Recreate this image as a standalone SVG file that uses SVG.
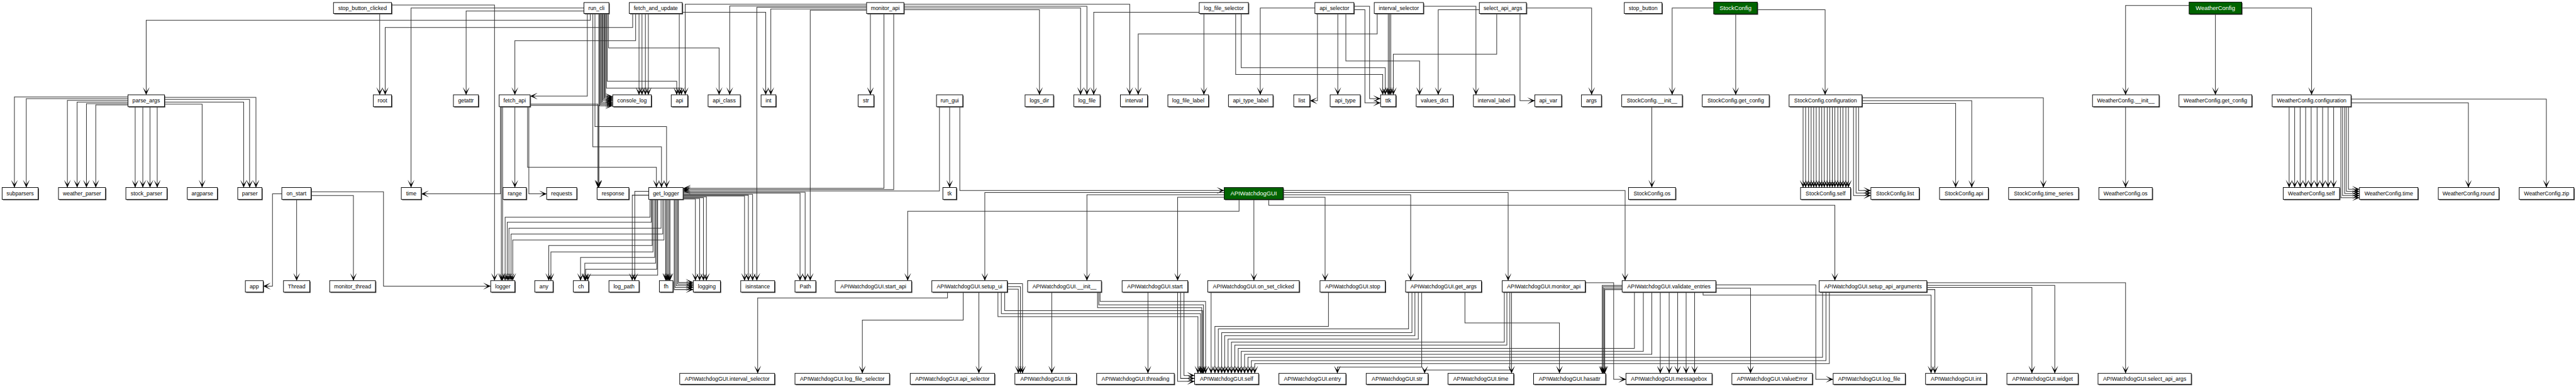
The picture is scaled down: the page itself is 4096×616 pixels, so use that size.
<svg xmlns="http://www.w3.org/2000/svg" width="4096" height="616" viewBox="0 0 4096 616">
<style>
.n rect.s{fill:#555}
.n rect.b{fill:#fff;stroke:#000;stroke-width:1.4}
.n text{font-family:"Liberation Sans",Arial,sans-serif;font-size:13px;text-anchor:middle;dominant-baseline:central;fill:#000}
.g rect.b{fill:#006400}
.g text{fill:#fff;font-size:14px}
#connectors path{fill:none;stroke:#333;stroke-width:1.5;marker-end:url(#arr)}
</style>
<defs>
<marker id="arr" markerUnits="userSpaceOnUse" markerWidth="18" markerHeight="16" viewBox="0 -8 18 16" refX="18" refY="0" orient="auto"><path d="M0,-8L18,0L0,8L11,0Z" fill="#000"/></marker>
</defs>
<rect width="4096" height="616" fill="#fff"/>
<g transform="scale(0.6738)">
<g id="connectors">
<path d="M896,32V224"/><path d="M924,12H1167V663"/><path d="M1378,19H970V443"/><path d="M1393,32V48H345V224"/><path d="M1493,32V65H909V224"/><path d="M1378,26H1100V224"/><path d="M1386,32V227H1251"/><path d="M1399,32V347H1561V443"/><path d="M1404,32V299H1573V443"/><path d="M1413,32V443"/>
<path d="M1415,32V250H1446"/><path d="M1417,32V247H1446"/><path d="M1419,32V244H1446"/><path d="M1421,32V241H1446"/><path d="M1423,32V237H1446"/><path d="M1425,32V234H1446"/><path d="M1427,32V231H1446"/><path d="M1429,32V228H1446"/>
<path d="M1433,32V192H1597V224"/><path d="M1431,32V208H1608V224"/><path d="M1436,32V113H1697V224"/>
<path d="M1500,32V96H1215V224"/><path d="M1508,32V224"/><path d="M1515,32V224"/><path d="M1523,32V224"/><path d="M1530,32V224"/><path d="M1603,32V224"/><path d="M1610,29H1807V224"/>
<path d="M2045,10H1617V224"/><path d="M2045,14H1722V224"/><path d="M2045,17H1786V663"/><path d="M2045,21H1819V224"/><path d="M2045,24H1912V663"/><path d="M2054,32V224"/><path d="M2086,32V445H1612"/><path d="M2109,32V448H1612"/><path d="M2133,10H2666V224"/><path d="M2133,15H2565V224"/><path d="M2133,19H2550V224"/><path d="M2133,23H2453V224"/>
<path d="M2217,252V451H1612"/><path d="M2241,252V443"/><path d="M2265,252V450H2889"/>
<path d="M2830,29H2581V224"/><path d="M2841,32V224"/><path d="M2916,32V176H3263V224"/><path d="M2929,32V160H3269V224"/>
<path d="M3103,19H2974V224"/><path d="M3109,32V238H3091"/><path d="M3157,32V224"/><path d="M3176,32V144H3350V224"/><path d="M3195,15H3232V233H3258"/><path d="M3195,23H3221V243H3258"/>
<path d="M3250,32V80H2686V224"/><path d="M3359,15H3483V224"/><path d="M3276,32V224"/><path d="M3279,32V224"/><path d="M3282,32V224"/>
<path d="M3491,23H3394V224"/><path d="M3532,32V128H3288V224"/><path d="M3587,32V238H3622"/><path d="M3602,19H3756V224"/>
<path d="M4044,19H3946V224"/><path d="M4096,33V224"/><path d="M4147,23H4307V224"/><path d="M3898,252V443"/>
<path d="M4255,252V443"/><path d="M4261,252V443"/><path d="M4268,252V443"/><path d="M4274,252V443"/><path d="M4280,252V443"/><path d="M4286,252V443"/><path d="M4293,252V443"/><path d="M4299,252V443"/><path d="M4305,252V443"/><path d="M4312,252V443"/><path d="M4318,252V443"/><path d="M4324,252V443"/><path d="M4330,252V443"/><path d="M4337,252V443"/><path d="M4343,252V443"/><path d="M4349,252V443"/><path d="M4356,252V443"/><path d="M4362,252V443"/>
<path d="M4374,252V462H4415"/><path d="M4380,252V456H4415"/><path d="M4386,252V450H4415"/>
<path d="M4394,231H4822V443"/><path d="M4394,238H4653V443"/><path d="M4394,244H4615V443"/>
<path d="M5166,13H5016V224"/><path d="M5228,33V224"/><path d="M5290,19H5455V224"/><path d="M5016,252V443"/>
<path d="M5402,252V443"/><path d="M5415,252V443"/><path d="M5428,252V443"/><path d="M5441,252V443"/><path d="M5454,252V443"/><path d="M5468,252V443"/><path d="M5481,252V443"/><path d="M5494,252V443"/><path d="M5507,252V443"/>
<path d="M5524,252V467H5568"/><path d="M5528,252V462H5568"/><path d="M5533,252V457H5568"/><path d="M5537,252V452H5568"/><path d="M5542,252V447H5568"/>
<path d="M5548,234H6009V443"/><path d="M5548,243H5825V443"/>
<path d="M302,229H34V443"/><path d="M302,233H62V443"/><path d="M302,237H159V443"/><path d="M302,241H182V443"/><path d="M302,245H204V443"/><path d="M302,248H226V443"/>
<path d="M319,252V443"/><path d="M337,252V443"/><path d="M354,252V443"/><path d="M371,252V443"/>
<path d="M388,230H604V443"/><path d="M388,235H589V443"/><path d="M388,241H575V443"/><path d="M388,246H477V443"/>
<path d="M665,458H643V676H621"/><path d="M700,471V663"/><path d="M734,462H834V663"/><path d="M734,453H905V676H1158"/>
<path d="M1215,252V443"/><path d="M1248,252V458H1290"/><path d="M1245,252V395H1549V443"/><path d="M1251,246H1411V443"/><path d="M1251,249H1413V443"/><path d="M1181,252V458H994"/><path d="M1183,252V663"/><path d="M1186,252V663"/>
<path d="M1534,471V513H1192V663"/><path d="M1537,471V525H1197V663"/><path d="M1560,471V539H1201V663"/><path d="M1564,471V553H1206V663"/><path d="M1567,471V567H1210V663"/>
<path d="M1539,471V580H1295V663"/><path d="M1541,471V595H1300V663"/>
<path d="M1545,471V608H1370V663"/><path d="M1547,471V622H1380V663"/><path d="M1550,471V636H1382V663"/><path d="M1552,471V650H1387V663"/>
<path d="M1531,452H1498V663"/><path d="M1531,461H1492V663"/>
<path d="M1571,471V663"/><path d="M1573,471V663"/><path d="M1576,471V663"/><path d="M1579,471V663"/><path d="M1581,471V663"/>
<path d="M1591,471V684H1636"/><path d="M1593,471V679H1636"/><path d="M1596,471V675H1636"/><path d="M1599,471V671H1636"/><path d="M1601,471V667H1636"/>
<path d="M1612,470H1641V663"/><path d="M1612,469H1651V663"/><path d="M1612,467H1660V663"/><path d="M1612,465H1667V663"/>
<path d="M1612,463H1757V663"/><path d="M1612,461H1766V663"/><path d="M1612,459H1776V663"/>
<path d="M1612,456H1888V663"/><path d="M1612,454H1900V663"/>
<path d="M2889,455H2324V663"/><path d="M2889,460H2565V663"/><path d="M2889,466H2779V663"/><path d="M2924,471V499H2142V663"/><path d="M2959,471V663"/><path d="M2994,471V485H4330V663"/>
<path d="M3028,450H3835V663"/><path d="M3028,455H3559V663"/><path d="M3028,460H3329V663"/><path d="M3028,466H3127V663"/>
<path d="M2236,690V704H1788V882"/><path d="M2273,690V756H2035V882"/><path d="M2310,690V882"/>
<path d="M2355,690V748H2827V882"/><path d="M2363,690V741H2833V882"/><path d="M2371,690V734H2838V882"/>
<path d="M2377,670H2413V882"/><path d="M2377,677H2408V882"/><path d="M2377,683H2403V882"/>
<path d="M2482,690V882"/><path d="M2590,690V727H2836V882"/><path d="M2593,690V720H2840V882"/><path d="M2596,690V712H2845V882"/>
<path d="M2709,690V882"/><path d="M2779,690V901H2819"/><path d="M2786,690V894H2819"/><path d="M2794,690V887H2819"/>
<path d="M2858,690V882"/>
<path d="M3135,690V771H2867V882"/>
<path d="M3324,690V777H2875V882"/><path d="M3332,690V786H2883V882"/><path d="M3339,690V793H2890V882"/><path d="M3347,690V801H2898V882"/>
<path d="M3550,690V808H2906V882"/><path d="M3556,690V815H2914V882"/>
<path d="M3857,690V823H2922V882"/><path d="M3878,690V830H2929V882"/><path d="M3898,690V837H2937V882"/>
<path d="M4301,690V844H2945V882"/><path d="M4309,690V852H2953V882"/><path d="M4317,690V859H2961V882"/>
<path d="M3355,690V867H3156V882"/><path d="M3563,690V874H3362V882"/><path d="M3567,690V882"/><path d="M3457,690V763H3680V882"/>
<path d="M3828,674H3781V882"/><path d="M3828,677H3783V882"/><path d="M3828,681H3785V882"/><path d="M3828,684H3787V882"/>
<path d="M3741,668H3808V896H3837"/>
<path d="M3918,690V882"/><path d="M3939,690V882"/><path d="M3959,690V882"/><path d="M3979,690V882"/><path d="M3999,690V882"/>
<path d="M4049,681H4131V882"/><path d="M4049,673H4285V896H4326"/><path d="M4019,690V697H4557V882"/>
<path d="M4547,684H4566V882"/><path d="M4547,679H4795V882"/><path d="M4547,674H4849V882"/><path d="M4547,668H5016V882"/>
</g>
<!-- row 1 -->
<g id="n-stop_button_clicked" class="n"><rect class="s" x="789" y="8" width="137" height="26"/><rect class="b" x="787" y="6" width="137" height="26"/><text x="855.5" y="19">stop_button_clicked</text></g>
<g id="n-run_cli" class="n"><rect class="s" x="1380" y="8" width="59" height="26"/><rect class="b" x="1378" y="6" width="59" height="26"/><text x="1407.5" y="19">run_cli</text></g>
<g id="n-fetch_and_update" class="n"><rect class="s" x="1487" y="8" width="125" height="26"/><rect class="b" x="1485" y="6" width="125" height="26"/><text x="1547.5" y="19">fetch_and_update</text></g>
<g id="n-monitor_api" class="n"><rect class="s" x="2047" y="8" width="88" height="26"/><rect class="b" x="2045" y="6" width="88" height="26"/><text x="2089" y="19">monitor_api</text></g>
<g id="n-log_file_selector" class="n"><rect class="s" x="2832" y="8" width="116" height="26"/><rect class="b" x="2830" y="6" width="116" height="26"/><text x="2888" y="19">log_file_selector</text></g>
<g id="n-api_selector" class="n"><rect class="s" x="3105" y="8" width="92" height="26"/><rect class="b" x="3103" y="6" width="92" height="26"/><text x="3149" y="19">api_selector</text></g>
<g id="n-interval_selector" class="n"><rect class="s" x="3245" y="8" width="116" height="26"/><rect class="b" x="3243" y="6" width="116" height="26"/><text x="3301" y="19">interval_selector</text></g>
<g id="n-select_api_args" class="n"><rect class="s" x="3493" y="8" width="111" height="26"/><rect class="b" x="3491" y="6" width="111" height="26"/><text x="3546.5" y="19">select_api_args</text></g>
<g id="n-stop_button" class="n"><rect class="s" x="3835" y="8" width="89" height="26"/><rect class="b" x="3833" y="6" width="89" height="26"/><text x="3877.5" y="19">stop_button</text></g>
<g id="n-StockConfig" class="n g"><rect class="s" x="4046" y="7" width="103" height="28"/><rect class="b" x="4044" y="5" width="103" height="28"/><text x="4095.5" y="19">StockConfig</text></g>
<g id="n-WeatherConfig" class="n g"><rect class="s" x="5168" y="7" width="124" height="28"/><rect class="b" x="5166" y="5" width="124" height="28"/><text x="5228" y="19">WeatherConfig</text></g>
<!-- row 2 -->
<g id="n-parse_args" class="n"><rect class="s" x="304" y="226" width="86" height="28"/><rect class="b" x="302" y="224" width="86" height="28"/><text x="345" y="238">parse_args</text></g>
<g id="n-root" class="n"><rect class="s" x="883" y="226" width="43" height="28"/><rect class="b" x="881" y="224" width="43" height="28"/><text x="902.5" y="238">root</text></g>
<g id="n-getattr" class="n"><rect class="s" x="1072" y="226" width="59" height="28"/><rect class="b" x="1070" y="224" width="59" height="28"/><text x="1099.5" y="238">getattr</text></g>
<g id="n-fetch_api" class="n"><rect class="s" x="1180" y="226" width="73" height="28"/><rect class="b" x="1178" y="224" width="73" height="28"/><text x="1214.5" y="238">fetch_api</text></g>
<g id="n-console_log" class="n"><rect class="s" x="1448" y="226" width="91" height="28"/><rect class="b" x="1446" y="224" width="91" height="28"/><text x="1491.5" y="238">console_log</text></g>
<g id="n-api" class="n"><rect class="s" x="1586" y="226" width="39" height="28"/><rect class="b" x="1584" y="224" width="39" height="28"/><text x="1603.5" y="238">api</text></g>
<g id="n-api_class" class="n"><rect class="s" x="1673" y="226" width="76" height="28"/><rect class="b" x="1671" y="224" width="76" height="28"/><text x="1709" y="238">api_class</text></g>
<g id="n-int" class="n"><rect class="s" x="1798" y="226" width="35" height="28"/><rect class="b" x="1796" y="224" width="35" height="28"/><text x="1813.5" y="238">int</text></g>
<g id="n-str" class="n"><rect class="s" x="2027" y="226" width="37" height="28"/><rect class="b" x="2025" y="224" width="37" height="28"/><text x="2043.5" y="238">str</text></g>
<g id="n-run_gui" class="n"><rect class="s" x="2212" y="226" width="62" height="28"/><rect class="b" x="2210" y="224" width="62" height="28"/><text x="2241" y="238">run_gui</text></g>
<g id="n-logs_dir" class="n"><rect class="s" x="2421" y="226" width="67" height="28"/><rect class="b" x="2419" y="224" width="67" height="28"/><text x="2452.5" y="238">logs_dir</text></g>
<g id="n-log_file" class="n"><rect class="s" x="2536" y="226" width="62" height="28"/><rect class="b" x="2534" y="224" width="62" height="28"/><text x="2565" y="238">log_file</text></g>
<g id="n-interval" class="n"><rect class="s" x="2646" y="226" width="64" height="28"/><rect class="b" x="2644" y="224" width="64" height="28"/><text x="2676" y="238">interval</text></g>
<g id="n-log_file_label" class="n"><rect class="s" x="2758" y="226" width="96" height="28"/><rect class="b" x="2756" y="224" width="96" height="28"/><text x="2804" y="238">log_file_label</text></g>
<g id="n-api_type_label" class="n"><rect class="s" x="2901" y="226" width="105" height="28"/><rect class="b" x="2899" y="224" width="105" height="28"/><text x="2951.5" y="238">api_type_label</text></g>
<g id="n-list" class="n"><rect class="s" x="3055" y="226" width="38" height="28"/><rect class="b" x="3053" y="224" width="38" height="28"/><text x="3072" y="238">list</text></g>
<g id="n-api_type" class="n"><rect class="s" x="3141" y="226" width="71" height="28"/><rect class="b" x="3139" y="224" width="71" height="28"/><text x="3174.5" y="238">api_type</text></g>
<g id="n-ttk" class="n"><rect class="s" x="3260" y="226" width="36" height="28"/><rect class="b" x="3258" y="224" width="36" height="28"/><text x="3276" y="238">ttk</text></g>
<g id="n-values_dict" class="n"><rect class="s" x="3344" y="226" width="87" height="28"/><rect class="b" x="3342" y="224" width="87" height="28"/><text x="3385.5" y="238">values_dict</text></g>
<g id="n-interval_label" class="n"><rect class="s" x="3479" y="226" width="97" height="28"/><rect class="b" x="3477" y="224" width="97" height="28"/><text x="3525.5" y="238">interval_label</text></g>
<g id="n-api_var" class="n"><rect class="s" x="3624" y="226" width="63" height="28"/><rect class="b" x="3622" y="224" width="63" height="28"/><text x="3653.5" y="238">api_var</text></g>
<g id="n-args" class="n"><rect class="s" x="3734" y="226" width="47" height="28"/><rect class="b" x="3732" y="224" width="47" height="28"/><text x="3755.5" y="238">args</text></g>
<g id="n-StockConfig-__init__" class="n"><rect class="s" x="3829" y="226" width="143" height="28"/><rect class="b" x="3827" y="224" width="143" height="28"/><text x="3898.5" y="238">StockConfig.__init__</text></g>
<g id="n-StockConfig-get_config" class="n"><rect class="s" x="4019" y="226" width="158" height="28"/><rect class="b" x="4017" y="224" width="158" height="28"/><text x="4096" y="238">StockConfig.get_config</text></g>
<g id="n-StockConfig-configuration" class="n"><rect class="s" x="4224" y="226" width="172" height="28"/><rect class="b" x="4222" y="224" width="172" height="28"/><text x="4308" y="238">StockConfig.configuration</text></g>
<g id="n-WeatherConfig-__init__" class="n"><rect class="s" x="4940" y="226" width="157" height="28"/><rect class="b" x="4938" y="224" width="157" height="28"/><text x="5016.5" y="238">WeatherConfig.__init__</text></g>
<g id="n-WeatherConfig-get_config" class="n"><rect class="s" x="5144" y="226" width="172" height="28"/><rect class="b" x="5142" y="224" width="172" height="28"/><text x="5228" y="238">WeatherConfig.get_config</text></g>
<g id="n-WeatherConfig-configuration" class="n"><rect class="s" x="5364" y="226" width="186" height="28"/><rect class="b" x="5362" y="224" width="186" height="28"/><text x="5455" y="238">WeatherConfig.configuration</text></g>
<!-- row 3 -->
<g id="n-subparsers" class="n"><rect class="s" x="7" y="445" width="85" height="28"/><rect class="b" x="5" y="443" width="85" height="28"/><text x="47.5" y="457">subparsers</text></g>
<g id="n-weather_parser" class="n"><rect class="s" x="140" y="445" width="111" height="28"/><rect class="b" x="138" y="443" width="111" height="28"/><text x="193.5" y="457">weather_parser</text></g>
<g id="n-stock_parser" class="n"><rect class="s" x="299" y="445" width="97" height="28"/><rect class="b" x="297" y="443" width="97" height="28"/><text x="345.5" y="457">stock_parser</text></g>
<g id="n-argparse" class="n"><rect class="s" x="444" y="445" width="71" height="28"/><rect class="b" x="442" y="443" width="71" height="28"/><text x="477.5" y="457">argparse</text></g>
<g id="n-parser" class="n"><rect class="s" x="563" y="445" width="57" height="28"/><rect class="b" x="561" y="443" width="57" height="28"/><text x="589.5" y="457">parser</text></g>
<g id="n-on_start" class="n"><rect class="s" x="667" y="445" width="69" height="28"/><rect class="b" x="665" y="443" width="69" height="28"/><text x="699.5" y="457">on_start</text></g>
<g id="n-time" class="n"><rect class="s" x="949" y="445" width="47" height="28"/><rect class="b" x="947" y="443" width="47" height="28"/><text x="970.5" y="457">time</text></g>
<g id="n-range" class="n"><rect class="s" x="1189" y="445" width="55" height="28"/><rect class="b" x="1187" y="443" width="55" height="28"/><text x="1214.5" y="457">range</text></g>
<g id="n-requests" class="n"><rect class="s" x="1292" y="445" width="71" height="28"/><rect class="b" x="1290" y="443" width="71" height="28"/><text x="1325.5" y="457">requests</text></g>
<g id="n-response" class="n"><rect class="s" x="1411" y="445" width="75" height="28"/><rect class="b" x="1409" y="443" width="75" height="28"/><text x="1446.5" y="457">response</text></g>
<g id="n-get_logger" class="n"><rect class="s" x="1533" y="445" width="81" height="28"/><rect class="b" x="1531" y="443" width="81" height="28"/><text x="1571.5" y="457">get_logger</text></g>
<g id="n-tk" class="n"><rect class="s" x="2227" y="445" width="32" height="28"/><rect class="b" x="2225" y="443" width="32" height="28"/><text x="2241" y="457">tk</text></g>
<g id="n-APIWatchdogGUI" class="n g"><rect class="s" x="2891" y="445" width="139" height="28"/><rect class="b" x="2889" y="443" width="139" height="28"/><text x="2958.5" y="457">APIWatchdogGUI</text></g>
<g id="n-StockConfig-os" class="n"><rect class="s" x="3845" y="445" width="111" height="28"/><rect class="b" x="3843" y="443" width="111" height="28"/><text x="3898.5" y="457">StockConfig.os</text></g>
<g id="n-StockConfig-self" class="n"><rect class="s" x="4251" y="445" width="118" height="28"/><rect class="b" x="4249" y="443" width="118" height="28"/><text x="4308" y="457">StockConfig.self</text></g>
<g id="n-StockConfig-list" class="n"><rect class="s" x="4417" y="445" width="114" height="28"/><rect class="b" x="4415" y="443" width="114" height="28"/><text x="4472" y="457">StockConfig.list</text></g>
<g id="n-StockConfig-api" class="n"><rect class="s" x="4579" y="445" width="115" height="28"/><rect class="b" x="4577" y="443" width="115" height="28"/><text x="4634.5" y="457">StockConfig.api</text></g>
<g id="n-StockConfig-time_series" class="n"><rect class="s" x="4742" y="445" width="165" height="28"/><rect class="b" x="4740" y="443" width="165" height="28"/><text x="4822.5" y="457">StockConfig.time_series</text></g>
<g id="n-WeatherConfig-os" class="n"><rect class="s" x="4955" y="445" width="126" height="28"/><rect class="b" x="4953" y="443" width="126" height="28"/><text x="5016" y="457">WeatherConfig.os</text></g>
<g id="n-WeatherConfig-self" class="n"><rect class="s" x="5390" y="445" width="133" height="28"/><rect class="b" x="5388" y="443" width="133" height="28"/><text x="5454.5" y="457">WeatherConfig.self</text></g>
<g id="n-WeatherConfig-time" class="n"><rect class="s" x="5570" y="445" width="138" height="28"/><rect class="b" x="5568" y="443" width="138" height="28"/><text x="5637" y="457">WeatherConfig.time</text></g>
<g id="n-WeatherConfig-round" class="n"><rect class="s" x="5756" y="445" width="143" height="28"/><rect class="b" x="5754" y="443" width="143" height="28"/><text x="5825.5" y="457">WeatherConfig.round</text></g>
<g id="n-WeatherConfig-zip" class="n"><rect class="s" x="5947" y="445" width="129" height="28"/><rect class="b" x="5945" y="443" width="129" height="28"/><text x="6009.5" y="457">WeatherConfig.zip</text></g>
<!-- row 4 -->
<g id="n-app" class="n"><rect class="s" x="581" y="665" width="42" height="27"/><rect class="b" x="579" y="663" width="42" height="27"/><text x="600" y="676.5">app</text></g>
<g id="n-Thread" class="n"><rect class="s" x="671" y="665" width="62" height="27"/><rect class="b" x="669" y="663" width="62" height="27"/><text x="700" y="676.5">Thread</text></g>
<g id="n-monitor_thread" class="n"><rect class="s" x="780" y="665" width="108" height="27"/><rect class="b" x="778" y="663" width="108" height="27"/><text x="832" y="676.5">monitor_thread</text></g>
<g id="n-logger" class="n"><rect class="s" x="1160" y="665" width="57" height="27"/><rect class="b" x="1158" y="663" width="57" height="27"/><text x="1186.5" y="676.5">logger</text></g>
<g id="n-any" class="n"><rect class="s" x="1264" y="665" width="43" height="27"/><rect class="b" x="1262" y="663" width="43" height="27"/><text x="1283.5" y="676.5">any</text></g>
<g id="n-ch" class="n"><rect class="s" x="1355" y="665" width="36" height="27"/><rect class="b" x="1353" y="663" width="36" height="27"/><text x="1371" y="676.5">ch</text></g>
<g id="n-log_path" class="n"><rect class="s" x="1439" y="665" width="71" height="27"/><rect class="b" x="1437" y="663" width="71" height="27"/><text x="1472.5" y="676.5">log_path</text></g>
<g id="n-fh" class="n"><rect class="s" x="1558" y="665" width="32" height="27"/><rect class="b" x="1556" y="663" width="32" height="27"/><text x="1572" y="676.5">fh</text></g>
<g id="n-logging" class="n"><rect class="s" x="1638" y="665" width="64" height="27"/><rect class="b" x="1636" y="663" width="64" height="27"/><text x="1668" y="676.5">logging</text></g>
<g id="n-isinstance" class="n"><rect class="s" x="1750" y="665" width="80" height="27"/><rect class="b" x="1748" y="663" width="80" height="27"/><text x="1788" y="676.5">isinstance</text></g>
<g id="n-Path" class="n"><rect class="s" x="1878" y="665" width="49" height="27"/><rect class="b" x="1876" y="663" width="49" height="27"/><text x="1900.5" y="676.5">Path</text></g>
<g id="n-APIWatchdogGUI-start_api" class="n"><rect class="s" x="1973" y="665" width="180" height="27"/><rect class="b" x="1971" y="663" width="180" height="27"/><text x="2061" y="676.5">APIWatchdogGUI.start_api</text></g>
<g id="n-APIWatchdogGUI-setup_ui" class="n"><rect class="s" x="2201" y="665" width="178" height="27"/><rect class="b" x="2199" y="663" width="178" height="27"/><text x="2288" y="676.5">APIWatchdogGUI.setup_ui</text></g>
<g id="n-APIWatchdogGUI-__init__" class="n"><rect class="s" x="2427" y="665" width="174" height="27"/><rect class="b" x="2425" y="663" width="174" height="27"/><text x="2512" y="676.5">APIWatchdogGUI.__init__</text></g>
<g id="n-APIWatchdogGUI-start" class="n"><rect class="s" x="2650" y="665" width="155" height="27"/><rect class="b" x="2648" y="663" width="155" height="27"/><text x="2725.5" y="676.5">APIWatchdogGUI.start</text></g>
<g id="n-APIWatchdogGUI-on_set_clicked" class="n"><rect class="s" x="2852" y="665" width="216" height="27"/><rect class="b" x="2850" y="663" width="216" height="27"/><text x="2958" y="676.5">APIWatchdogGUI.on_set_clicked</text></g>
<g id="n-APIWatchdogGUI-stop" class="n"><rect class="s" x="3117" y="665" width="154" height="27"/><rect class="b" x="3115" y="663" width="154" height="27"/><text x="3192" y="676.5">APIWatchdogGUI.stop</text></g>
<g id="n-APIWatchdogGUI-get_args" class="n"><rect class="s" x="3319" y="665" width="179" height="27"/><rect class="b" x="3317" y="663" width="179" height="27"/><text x="3406.5" y="676.5">APIWatchdogGUI.get_args</text></g>
<g id="n-APIWatchdogGUI-monitor_api" class="n"><rect class="s" x="3547" y="665" width="196" height="27"/><rect class="b" x="3545" y="663" width="196" height="27"/><text x="3643" y="676.5">APIWatchdogGUI.monitor_api</text></g>
<g id="n-APIWatchdogGUI-validate_entries" class="n"><rect class="s" x="3830" y="665" width="221" height="27"/><rect class="b" x="3828" y="663" width="221" height="27"/><text x="3938.5" y="676.5">APIWatchdogGUI.validate_entries</text></g>
<g id="n-APIWatchdogGUI-setup_api_arguments" class="n"><rect class="s" x="4295" y="665" width="254" height="27"/><rect class="b" x="4293" y="663" width="254" height="27"/><text x="4420" y="676.5">APIWatchdogGUI.setup_api_arguments</text></g>
<!-- row 5 -->
<g id="n-APIWatchdogGUI-interval_selector" class="n"><rect class="s" x="1606" y="884" width="224" height="26"/><rect class="b" x="1604" y="882" width="224" height="26"/><text x="1716" y="895">APIWatchdogGUI.interval_selector</text></g>
<g id="n-APIWatchdogGUI-log_file_selector" class="n"><rect class="s" x="1878" y="884" width="223" height="26"/><rect class="b" x="1876" y="882" width="223" height="26"/><text x="1987.5" y="895">APIWatchdogGUI.log_file_selector</text></g>
<g id="n-APIWatchdogGUI-api_selector" class="n"><rect class="s" x="2150" y="884" width="199" height="26"/><rect class="b" x="2148" y="882" width="199" height="26"/><text x="2247.5" y="895">APIWatchdogGUI.api_selector</text></g>
<g id="n-APIWatchdogGUI-ttk" class="n"><rect class="s" x="2397" y="884" width="145" height="26"/><rect class="b" x="2395" y="882" width="145" height="26"/><text x="2467.5" y="895">APIWatchdogGUI.ttk</text></g>
<g id="n-APIWatchdogGUI-threading" class="n"><rect class="s" x="2590" y="884" width="183" height="26"/><rect class="b" x="2588" y="882" width="183" height="26"/><text x="2679.5" y="895">APIWatchdogGUI.threading</text></g>
<g id="n-APIWatchdogGUI-self" class="n"><rect class="s" x="2821" y="884" width="151" height="26"/><rect class="b" x="2819" y="882" width="151" height="26"/><text x="2894.5" y="895">APIWatchdogGUI.self</text></g>
<g id="n-APIWatchdogGUI-entry" class="n"><rect class="s" x="3020" y="884" width="158" height="26"/><rect class="b" x="3018" y="882" width="158" height="26"/><text x="3097" y="895">APIWatchdogGUI.entry</text></g>
<g id="n-APIWatchdogGUI-str" class="n"><rect class="s" x="3226" y="884" width="146" height="26"/><rect class="b" x="3224" y="882" width="146" height="26"/><text x="3297" y="895">APIWatchdogGUI.str</text></g>
<g id="n-APIWatchdogGUI-time" class="n"><rect class="s" x="3419" y="884" width="155" height="26"/><rect class="b" x="3417" y="882" width="155" height="26"/><text x="3494.5" y="895">APIWatchdogGUI.time</text></g>
<g id="n-APIWatchdogGUI-hasattr" class="n"><rect class="s" x="3621" y="884" width="170" height="26"/><rect class="b" x="3619" y="882" width="170" height="26"/><text x="3704" y="895">APIWatchdogGUI.hasattr</text></g>
<g id="n-APIWatchdogGUI-messagebox" class="n"><rect class="s" x="3839" y="884" width="203" height="26"/><rect class="b" x="3837" y="882" width="203" height="26"/><text x="3938.5" y="895">APIWatchdogGUI.messagebox</text></g>
<g id="n-APIWatchdogGUI-ValueError" class="n"><rect class="s" x="4089" y="884" width="190" height="26"/><rect class="b" x="4087" y="882" width="190" height="26"/><text x="4182" y="895">APIWatchdogGUI.ValueError</text></g>
<g id="n-APIWatchdogGUI-log_file" class="n"><rect class="s" x="4328" y="884" width="170" height="26"/><rect class="b" x="4326" y="882" width="170" height="26"/><text x="4411" y="895">APIWatchdogGUI.log_file</text></g>
<g id="n-APIWatchdogGUI-int" class="n"><rect class="s" x="4546" y="884" width="144" height="26"/><rect class="b" x="4544" y="882" width="144" height="26"/><text x="4616" y="895">APIWatchdogGUI.int</text></g>
<g id="n-APIWatchdogGUI-widget" class="n"><rect class="s" x="4738" y="884" width="168" height="26"/><rect class="b" x="4736" y="882" width="168" height="26"/><text x="4820" y="895">APIWatchdogGUI.widget</text></g>
<g id="n-APIWatchdogGUI-select_api_args" class="n"><rect class="s" x="4953" y="884" width="220" height="26"/><rect class="b" x="4951" y="882" width="220" height="26"/><text x="5061" y="895">APIWatchdogGUI.select_api_args</text></g>
</g>
</svg>
